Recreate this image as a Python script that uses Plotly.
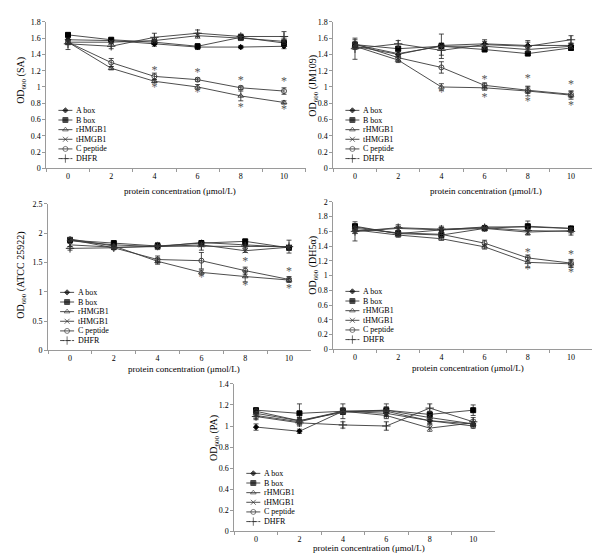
import plotly.graph_objects as go

# ---------------- data ----------------
CONC = ["0", "2", "4", "6", "8", "10"]
SERIES = ["A box", "B box", "rHMGB1", "tHMGB1", "C peptide", "DHFR"]

SA_MEAN = {
    "A box":     [1.58, 1.57, 1.53, 1.49, 1.49, 1.50],
    "B box":     [1.64, 1.58, 1.55, 1.50, 1.61, 1.54],
    "rHMGB1":    [1.55, 1.23, 1.07, 1.00, 0.89, 0.81],
    "tHMGB1":    [1.55, 1.55, 1.57, 1.63, 1.60, 1.56],
    "C peptide": [1.55, 1.30, 1.13, 1.09, 0.99, 0.95],
    "DHFR":      [1.53, 1.50, 1.61, 1.66, 1.62, 1.62],
}
SA_ERR = {
    "A box":     [0.03, 0.02, 0.03, 0.03, 0.02, 0.03],
    "B box":     [0.02, 0.02, 0.02, 0.03, 0.03, 0.04],
    "rHMGB1":    [0.03, 0.02, 0.02, 0.03, 0.06, 0.02],
    "tHMGB1":    [0.02, 0.02, 0.03, 0.03, 0.03, 0.04],
    "C peptide": [0.03, 0.05, 0.04, 0.02, 0.02, 0.04],
    "DHFR":      [0.07, 0.03, 0.05, 0.04, 0.03, 0.06],
}
SA_STAR_X = ["4", "4", "6", "6", "8", "8", "10", "10"]
SA_STAR_Y = [1.20, 0.99, 1.17, 0.93, 1.07, 0.74, 1.06, 0.72]

JM_MEAN = {
    "A box":     [1.50, 1.40, 1.51, 1.53, 1.51, 1.51],
    "B box":     [1.52, 1.47, 1.50, 1.46, 1.41, 1.48],
    "rHMGB1":    [1.50, 1.33, 1.00, 0.99, 0.95, 0.90],
    "tHMGB1":    [1.52, 1.41, 1.50, 1.50, 1.46, 1.50],
    "C peptide": [1.53, 1.36, 1.24, 1.02, 0.96, 0.91],
    "DHFR":      [1.47, 1.53, 1.45, 1.52, 1.50, 1.58],
}
JM_ERR = {
    "A box":     [0.04, 0.03, 0.03, 0.03, 0.04, 0.03],
    "B box":     [0.03, 0.03, 0.03, 0.02, 0.02, 0.03],
    "rHMGB1":    [0.03, 0.03, 0.04, 0.03, 0.06, 0.05],
    "tHMGB1":    [0.03, 0.03, 0.15, 0.03, 0.03, 0.03],
    "C peptide": [0.05, 0.04, 0.07, 0.03, 0.04, 0.04],
    "DHFR":      [0.13, 0.04, 0.06, 0.06, 0.07, 0.05],
}
JM_STAR_X = ["4", "6", "6", "8", "8", "10", "10"]
JM_STAR_Y = [0.92, 1.08, 0.87, 1.10, 0.81, 1.02, 0.77]

EC_MEAN = {
    "A box":     [1.87, 1.80, 1.77, 1.84, 1.80, 1.76],
    "B box":     [1.88, 1.83, 1.78, 1.83, 1.86, 1.75],
    "rHMGB1":    [1.90, 1.78, 1.52, 1.33, 1.26, 1.20],
    "tHMGB1":    [1.80, 1.76, 1.77, 1.80, 1.70, 1.76],
    "C peptide": [1.89, 1.75, 1.55, 1.53, 1.36, 1.21],
    "DHFR":      [1.74, 1.75, 1.78, 1.78, 1.78, 1.77],
}
EC_ERR = {
    "A box":     [0.03, 0.03, 0.03, 0.03, 0.03, 0.03],
    "B box":     [0.03, 0.03, 0.03, 0.03, 0.03, 0.03],
    "rHMGB1":    [0.03, 0.03, 0.05, 0.04, 0.09, 0.03],
    "tHMGB1":    [0.03, 0.03, 0.03, 0.03, 0.03, 0.03],
    "C peptide": [0.03, 0.03, 0.06, 0.14, 0.06, 0.05],
    "DHFR":      [0.03, 0.03, 0.06, 0.07, 0.03, 0.11],
}
EC_STAR_X = ["6", "8", "8", "10", "10"]
EC_STAR_Y = [1.24, 1.51, 1.10, 1.34, 1.05]

DH_MEAN = {
    "A box":     [1.66, 1.57, 1.62, 1.66, 1.66, 1.64],
    "B box":     [1.67, 1.57, 1.55, 1.64, 1.67, 1.64],
    "rHMGB1":    [1.62, 1.55, 1.50, 1.39, 1.18, 1.16],
    "tHMGB1":    [1.60, 1.64, 1.62, 1.64, 1.59, 1.61],
    "C peptide": [1.64, 1.58, 1.56, 1.44, 1.24, 1.17],
    "DHFR":      [1.60, 1.65, 1.63, 1.65, 1.61, 1.60],
}
DH_ERR = {
    "A box":     [0.03, 0.02, 0.03, 0.02, 0.03, 0.02],
    "B box":     [0.03, 0.02, 0.02, 0.02, 0.07, 0.02],
    "rHMGB1":    [0.03, 0.03, 0.02, 0.03, 0.07, 0.05],
    "tHMGB1":    [0.03, 0.03, 0.03, 0.03, 0.03, 0.03],
    "C peptide": [0.03, 0.03, 0.03, 0.04, 0.04, 0.05],
    "DHFR":      [0.13, 0.04, 0.04, 0.03, 0.06, 0.05],
}
DH_STAR_X = ["8", "8", "10", "10"]
DH_STAR_Y = [1.31, 1.07, 1.28, 1.03]

PA_MEAN = {
    "A box":     [0.99, 0.95, 1.14, 1.12, 1.05, 1.02],
    "B box":     [1.15, 1.12, 1.14, 1.15, 1.11, 1.15],
    "rHMGB1":    [1.12, 1.05, 1.13, 1.15, 1.08, 1.02],
    "tHMGB1":    [1.10, 1.04, 1.14, 1.10, 0.98, 1.03],
    "C peptide": [1.14, 1.05, 1.14, 1.14, 1.05, 1.00],
    "DHFR":      [1.09, 1.03, 1.01, 1.00, 1.17, 1.04],
}
PA_ERR = {
    "A box":     [0.03, 0.02, 0.03, 0.03, 0.03, 0.02],
    "B box":     [0.02, 0.09, 0.03, 0.06, 0.03, 0.05],
    "rHMGB1":    [0.02, 0.03, 0.02, 0.03, 0.03, 0.02],
    "tHMGB1":    [0.03, 0.03, 0.03, 0.03, 0.03, 0.03],
    "C peptide": [0.02, 0.03, 0.07, 0.04, 0.03, 0.02],
    "DHFR":      [0.03, 0.03, 0.03, 0.04, 0.04, 0.04],
}
PA_STAR_X = []
PA_STAR_Y = []

Y_TITLES = ["OD<sub>600</sub> (SA)", "OD<sub>600</sub> (JM109)", "OD<sub>600</sub> (ATCC 25922)",
            "OD<sub>600</sub> (DH5α)", "OD<sub>600</sub> (PA)"]
X_TITLE = "protein concentration (μmol/L)"

# ---------------- styling / layout ----------------
W, H = 600, 553
FONT = "Liberation Serif, Times New Roman, serif"
LINE_COL = "#3a3a3a"
AXIS_COL = "#9a9a9a"

STYLE = {
    "A box":     dict(symbol="diamond", size=4, color="#000", lw=1),
    "B box":     dict(symbol="square", size=5, color="#000", lw=1),
    "rHMGB1":    dict(symbol="triangle-up-open", size=5, color="#333", lw=0.9),
    "tHMGB1":    dict(symbol="x-thin-open", size=5, color="#333", lw=1),
    "C peptide": dict(symbol="circle-open", size=5, color="#333", lw=0.9),
    "DHFR":      dict(symbol="cross-thin-open", size=6, color="#333", lw=1),
}

# (left, right, top, bottom) in pixels, y-range max, dtick, ytitle pos, xtitle pos
PANELS = [
    dict(mean=SA_MEAN, err=SA_ERR, sx=SA_STAR_X, sy=SA_STAR_Y, box=(38.4, 297.6, 10, 159),
         ymax=1.8, dtick=0.2, yt=(14, 70), xt=(172, 182)),
    dict(mean=JM_MEAN, err=JM_ERR, sx=JM_STAR_X, sy=JM_STAR_Y, box=(325.4, 584.6, 10, 159),
         ymax=1.8, dtick=0.2, yt=(306, 75), xt=(478, 182)),
    dict(mean=EC_MEAN, err=EC_ERR, sx=EC_STAR_X, sy=EC_STAR_Y, box=(40.1, 302.9, 195, 344),
         ymax=2.5, dtick=0.5, yt=(14, 268), xt=(176, 363)),
    dict(mean=DH_MEAN, err=DH_ERR, sx=DH_STAR_X, sy=DH_STAR_Y, box=(325.4, 584.6, 193, 343),
         ymax=2.0, dtick=0.2, yt=(306, 258), xt=(460, 362)),
    dict(mean=PA_MEAN, err=PA_ERR, sx=PA_STAR_X, sy=PA_STAR_Y, box=(226.3, 486.9, 378, 528),
         ymax=1.4, dtick=0.2, yt=(207, 433), xt=(361, 545)),
]

fig = go.Figure()
layout = dict(width=W, height=H, margin=dict(l=0, r=0, t=0, b=0),
              paper_bgcolor="white", plot_bgcolor="rgba(0,0,0,0)",
              showlegend=False, font=dict(family=FONT, color="#000"))
annotations = []
OV = 6  # overlay axis index (pixel coordinates)

for i, p in enumerate(PANELS, start=1):
    l, r, t, b = p["box"]
    xa = "xaxis" if i == 1 else f"xaxis{i}"
    ya = "yaxis" if i == 1 else f"yaxis{i}"
    xr = "x" if i == 1 else f"x{i}"
    yr = "y" if i == 1 else f"y{i}"
    layout[xa] = dict(domain=[l / W, r / W], anchor=yr, type="category",
                      categoryorder="array", categoryarray=CONC, range=[-0.5, 5.5],
                      tickson="boundaries", ticks="outside", ticklen=3, tickcolor=AXIS_COL,
                      showline=True, linecolor=AXIS_COL, linewidth=1, showgrid=False,
                      zeroline=False, tickfont=dict(size=8, family=FONT), fixedrange=True)
    layout[ya] = dict(domain=[1 - b / H, 1 - t / H], anchor=xr, range=[0, p["ymax"]],
                      dtick=p["dtick"], tick0=0, ticks="outside", ticklen=3, tickcolor=AXIS_COL,
                      showline=True, linecolor=AXIS_COL, linewidth=1, showgrid=False,
                      zeroline=False, tickfont=dict(size=8, family=FONT), fixedrange=True)
    for name in SERIES:
        s = STYLE[name]
        fig.add_trace(go.Scatter(
            x=CONC, y=p["mean"][name], name=name, mode="lines+markers",
            xaxis=xr, yaxis=yr,
            line=dict(color=LINE_COL, width=0.9),
            marker=dict(symbol=s["symbol"], size=s["size"], color=s["color"],
                        line=dict(color=s["color"], width=s["lw"])),
            error_y=dict(type="data", array=p["err"][name], visible=True,
                         color="#222", thickness=0.8, width=2.5),
        ))
    if p["sx"]:
        fig.add_trace(go.Scatter(
            x=p["sx"], y=p["sy"], mode="text", text=["*"] * len(p["sx"]),
            textposition="middle center", xaxis=xr, yaxis=yr,
            textfont=dict(size=12, color="#555", family=FONT), hoverinfo="skip"))

    # titles (pixel coordinates on overlay axes)
    annotations.append(dict(x=p["yt"][0], y=p["yt"][1], xref=f"x{OV}", yref=f"y{OV}",
                            text=Y_TITLES[i - 1], textangle=-90, showarrow=False,
                            font=dict(size=10, family=FONT)))
    annotations.append(dict(x=p["xt"][0], y=p["xt"][1], xref=f"x{OV}", yref=f"y{OV}",
                            text=X_TITLE, showarrow=False, font=dict(size=9, family=FONT)))

    # legend drawn inside the panel, bottom-left
    lx0 = l + 12
    for k, name in enumerate(SERIES):
        s = STYLE[name]
        ly = b - 59 + k * 9.8
        fig.add_trace(go.Scatter(
            x=[lx0, lx0 + 7, lx0 + 14], y=[ly, ly, ly], mode="lines+markers",
            xaxis=f"x{OV}", yaxis=f"y{OV}", hoverinfo="skip",
            line=dict(color=LINE_COL, width=0.9, dash="4px,2px" if name == "DHFR" else "solid"),
            marker=dict(symbol=s["symbol"], size=[0, s["size"], 0], color=s["color"],
                        line=dict(color=s["color"], width=s["lw"]))))
        annotations.append(dict(x=lx0 + 16, y=ly, xref=f"x{OV}", yref=f"y{OV}",
                                text=name, showarrow=False, xanchor="left",
                                font=dict(size=8, family=FONT)))

layout[f"xaxis{OV}"] = dict(domain=[0, 1], range=[0, W], visible=False, fixedrange=True,
                            anchor=f"y{OV}")
layout[f"yaxis{OV}"] = dict(domain=[0, 1], range=[H, 0], visible=False, fixedrange=True,
                            anchor=f"x{OV}")
layout["annotations"] = annotations
fig.update_layout(**layout)
fig.write_html("out.html")
